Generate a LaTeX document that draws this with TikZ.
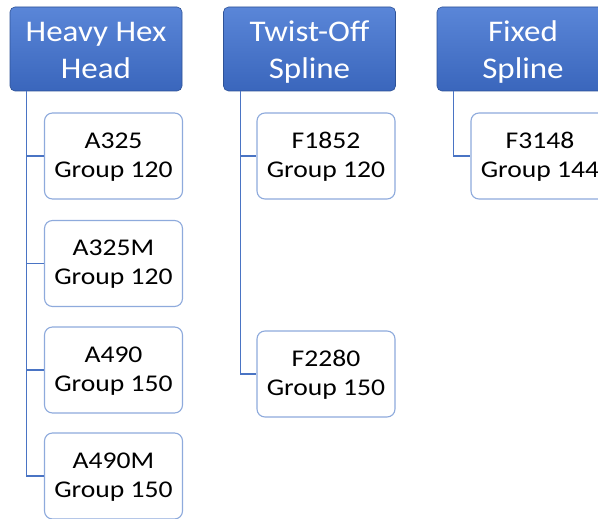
\documentclass[tikz,border=0pt]{standalone}
\usepackage{fontspec}
\usepackage{graphicx}
\setmainfont{Carlito}
\definecolor{hdtop}{HTML}{5A86D8}
\definecolor{hdbot}{HTML}{3A66BC}
\definecolor{linkc}{HTML}{4A74C4}
\definecolor{boxc}{HTML}{8EAADC}
\newcommand{\hdtxt}[2]{\raisebox{-3pt}[\height][\depth]{\scalebox{1.1}[1]{\fontsize{30}{38}\selectfont\begin{tabular}{@{}c@{}}#1\\[-1pt]#2\end{tabular}}}}
\newcommand{\chtxt}[2]{\raisebox{-1pt}[\height][\depth]{\scalebox{1.15}[1]{\fontsize{24}{29.5}\selectfont\begin{tabular}{@{}c@{}}#1\\[-0.5pt]#2\end{tabular}}}}
\tikzset{
  hdbox/.style={rectangle, rounded corners=5pt, top color=hdtop, bottom color=hdbot, draw=hdbot!80!black, line width=0.6pt, text=white, minimum width=172pt, minimum height=84pt, inner sep=0pt},
  chbox/.style={rectangle, rounded corners=8pt, draw=boxc, line width=1.1pt, fill=white, text=black, minimum width=138pt, minimum height=86pt, inner sep=0pt},
  link/.style={draw=linkc, line width=1.3pt}
}
\begin{document}
\begin{tikzpicture}[x=1pt,y=-1pt]
\useasboundingbox (0,0) rectangle (598,519);
\begin{scope}
\clip (0,0) rectangle (598,519);
% headers
\node[hdbox] (h1) at (96,49) {\hdtxt{Heavy Hex}{Head}};
\node[hdbox] (h2) at (309.5,49) {\hdtxt{Twist-Off}{Spline}};
\node[hdbox] (h3) at (523,49) {\hdtxt{Fixed}{Spline}};
% column 1
\node[chbox] (a1) at (113.5,156) {\chtxt{A325}{Group 120}};
\node[chbox] (a2) at (113.5,263.5) {\chtxt{A325M}{Group 120}};
\node[chbox] (a3) at (113.5,370) {\chtxt{A490}{Group 150}};
\node[chbox] (a4) at (113.5,476) {\chtxt{A490M}{Group 150}};
% column 2
\node[chbox] (b1) at (326,156) {\chtxt{F1852}{Group 120}};
\node[chbox] (b2) at (326,374) {\chtxt{F2280}{Group 150}};
% column 3
\node[chbox] (c1) at (540,156) {\chtxt{F3148}{Group 144}};
% connectors
\coordinate (h1s) at ([xshift=17pt]h1.south west);
\coordinate (h2s) at ([xshift=17pt]h2.south west);
\coordinate (h3s) at ([xshift=17pt]h3.south west);
\draw[link] (h1s) |- (a1.west);
\draw[link] (h1s) |- (a2.west);
\draw[link] (h1s) |- (a3.west);
\draw[link] (h1s) |- (a4.west);
\draw[link] (h2s) |- (b1.west);
\draw[link] (h2s) |- (b2.west);
\draw[link] (h3s) |- (c1.west);
\end{scope}
\end{tikzpicture}
\end{document}
